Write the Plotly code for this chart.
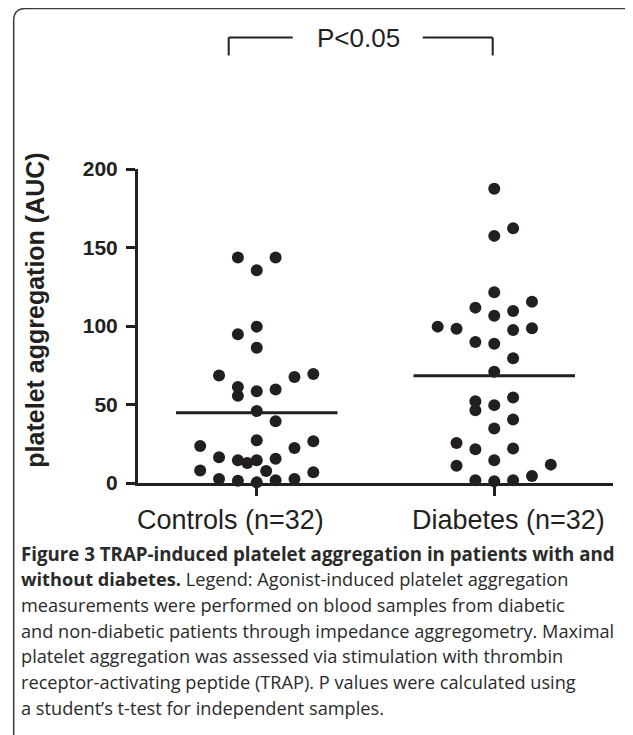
import plotly.graph_objects as go

# ---------------- data ----------------
categories = ["Controls (n=32)", "Diabetes (n=32)"]

controls = [143.6, 143.6, 135.5, 99.6, 94.7, 86.2, 68.5, 69.4, 67.5, 61.1, 55.5,
            58.5, 59.6, 45.8, 39.4, 27.2, 23.6, 22.3, 26.6, 16.4, 14.5, 12.8,
            14.5, 15.5, 7.9, 7.7, 6.8, 2.6, 1.5, 0.4, 1.7, 2.6]
diabetes = [187.4, 162.3, 157.4, 121.5, 111.7, 115.5, 106.6, 109.6, 99.6, 98.3,
            97.4, 98.5, 89.8, 88.7, 79.4, 70.8, 52.1, 46.4, 49.6, 54.5, 40.5,
            34.7, 25.5, 21.5, 22.0, 14.5, 11.0, 11.7, 1.7, 1.1, 1.7, 4.5]

# beeswarm column slot of each point
controls_slot = [-1, 1, 0, 0, -1, 0, -2, 3, 2, -1, -1, 0, 1, 0, 1, 0, -3, 2, 3,
                 -2, -1, -0.5, 0, 1, -3, 0.5, 3, -2, -1, 0, 1, 2]
diabetes_slot = [0, 1, 0, 0, -1, 2, 0, 1, -3, -2, 1, 2, -1, 0, 1, 0, -1, -1, 0,
                 1, 1, 0, -2, -1, 1, 0, -2, 3, -1, 0, 1, 2]

y_ticks = [0, 50, 100, 150, 200]
y_title = "platelet aggregation (AUC)"
p_text = "P<0.05"

caption_lines = [
    "<b>Figure 3 TRAP-induced platelet aggregation in patients with and</b>",
    "<b>without diabetes.</b> Legend: Agonist-induced platelet aggregation",
    "measurements were performed on blood samples from diabetic",
    "and non-diabetic patients through impedance aggregometry. Maximal",
    "platelet aggregation was assessed via stimulation with thrombin",
    "receptor-activating peptide (TRAP). P values were calculated using",
    "a student\u2019s t-test for independent samples.",
]

# ---------------- layout helpers ----------------
W, H = 633, 735
OFF = 8  # page body margin offset
PL, PR, PT, PB = 138.3 - OFF, 613.3 - OFF, 169.3 - OFF, 482.7 - OFF  # plot area in page px
L, R, T, B = PL, W - PR, PT, H - PB
PW, PH = PR - PL, PB - PT
INK = "#231f20"
SLOT = 0.0794
HALF = 0.34


def px(x):
    return (x - OFF - PL) / PW


def py(y):
    return (PB - (y - OFF)) / PH


fig = go.Figure()

groups = [controls, diabetes]
slots = [controls_slot, diabetes_slot]
for i, (vals, sl) in enumerate(zip(groups, slots)):
    xs = [i + s * SLOT for s in sl]
    fig.add_trace(go.Scatter(
        x=xs, y=vals, mode="markers",
        marker=dict(size=12, color=INK, line=dict(width=0)),
        cliponaxis=False, showlegend=False, hoverinfo="y"))
    m = sum(vals) / len(vals)
    fig.add_trace(go.Scatter(
        x=[i - HALF, i + HALF], y=[m, m], mode="lines",
        line=dict(color=INK, width=3), cliponaxis=False,
        showlegend=False, hoverinfo="skip"))

annotations = []
# category labels
label_x = [-0.109, 1.062]
for cx, name in zip(label_x, categories):
    annotations.append(dict(
        x=cx, y=py(520), xref="x", yref="paper", text=name, showarrow=False,
        font=dict(family="Liberation Sans, Arial", size=27, color=INK),
        xanchor="center", yanchor="middle"))

# y title
annotations.append(dict(
    x=px(35), y=py(310), xref="paper", yref="paper", text="<b>" + y_title + "</b>",
    textangle=-90, showarrow=False,
    font=dict(family="Liberation Sans, Arial", size=25, color=INK),
    xanchor="center", yanchor="middle"))

# p value text
annotations.append(dict(
    x=px(359), y=py(39), xref="paper", yref="paper", text=p_text, showarrow=False,
    font=dict(family="Liberation Sans, Arial", size=26, color=INK),
    xanchor="center", yanchor="middle"))

# caption
cap_y0, cap_dy = 553, 25.7
for k, line in enumerate(caption_lines):
    annotations.append(dict(
        x=px(19), y=py(cap_y0 + k * cap_dy), xref="paper", yref="paper",
        text=line, showarrow=False, align="left",
        font=dict(family="Open Sans", size=18.7 if k == 0 else 18.2,
                  color="#2a2a2a"),
        xanchor="left", yanchor="middle"))

shapes = []
# bracket
bl, br, bt, bb = 229, 493, 38, 56
for seg in [((bl, bb), (bl, bt)), ((bl, bt), (293, bt)),
            ((423, bt), (br, bt)), ((br, bt), (br, bb))]:
    (x0, y0), (x1, y1) = seg
    shapes.append(dict(type="line", xref="paper", yref="paper",
                       x0=px(x0), y0=py(y0), x1=px(x1), y1=py(y1),
                       line=dict(color=INK, width=2)))

# frame (rounded top-left corner)
path = "M {a},{b} L {a},{c} Q {a},{d} {e},{d} L {f},{d}".format(
    a=px(14), b=py(760), c=py(21), d=py(9), e=px(26), f=px(660))
shapes.append(dict(type="path", xref="paper", yref="paper", path=path,
                   line=dict(color="#3a3a3a", width=1.5)))

fig.update_layout(
    width=W, height=H,
    margin=dict(l=L, r=R, t=T, b=B, pad=0),
    paper_bgcolor="white", plot_bgcolor="white",
    annotations=annotations, shapes=shapes,
    xaxis=dict(range=[-0.5, 1.5], tickvals=[0, 1], ticktext=["", ""],
               showgrid=False, zeroline=False, showline=True,
               linecolor=INK, linewidth=3, ticks="outside", ticklen=10,
               tickwidth=3, tickcolor=INK, fixedrange=True),
    yaxis=dict(range=[0, 200], tickvals=y_ticks,
               showgrid=False, zeroline=False, showline=True,
               linecolor=INK, linewidth=3, ticks="outside", ticklen=9,
               tickwidth=3, tickcolor=INK, ticklabelstandoff=4,
               tickfont=dict(family="Liberation Sans, Arial", size=21, color=INK,
                             weight="bold"),
               fixedrange=True),
    font=dict(family="Liberation Sans, Arial", color=INK),
)

fig.write_html("out.html")
